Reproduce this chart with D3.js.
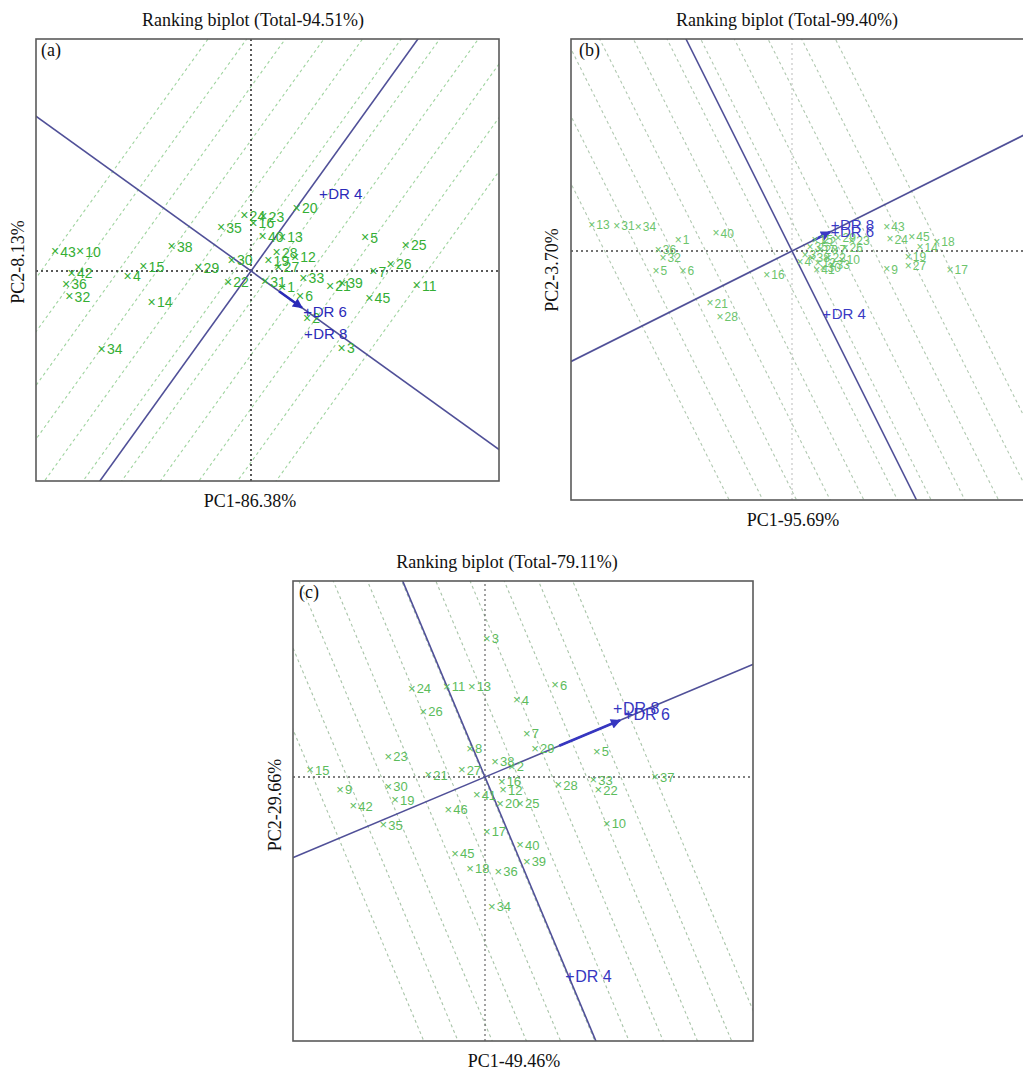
<!DOCTYPE html>
<html><head><meta charset="utf-8">
<script src="https://cdn.jsdelivr.net/npm/d3@7"></script>
<style>body{margin:0;background:#fff}svg{display:block}</style>
</head><body>
<svg id="chart" width="1023" height="1070"></svg>
<script>
// ---------- DATA ----------
const panelTitles = ["Ranking biplot (Total-94.51%)", "Ranking biplot (Total-99.40%)", "Ranking biplot (Total-79.11%)"];
const panelTags = ["(a)", "(b)", "(c)"];
const xAxisLabels = ["PC1-86.38%", "PC1-95.69%", "PC1-49.46%"];
const yAxisLabels = ["PC2-8.13%", "PC2-3.70%", "PC2-29.66%"];

// genotype scores [label, PC1, PC2]
const genotypesA = [
  ["43",-19.6,1.93],["10",-17.1,1.93],["42",-17.93,-0.23],["36",-18.5,-1.33],["32",-18.17,-2.57],
  ["4",-12.33,-0.5],["15",-10.77,0.43],["38",-7.93,2.43],["14",-9.93,-3.13],["34",-14.93,-7.8],
  ["29",-5.27,0.33],["35",-3.0,4.33],["24",-0.67,5.53],["23",1.23,5.43],["16",0.23,4.77],
  ["30",-1.93,1.1],["22",-2.3,-1.1],["20",4.57,6.27],["40",1.17,3.43],["13",3.1,3.4],
  ["28",2.57,1.83],["19",1.73,1.03],["12",4.4,1.37],["27",2.73,0.37],["31",1.4,-1.07],
  ["33",5.23,-0.73],["21",7.9,-1.5],["39",9.1,-1.2],["1",3.1,-1.6],["6",4.9,-2.5],
  ["2",5.6,-4.7],["5",11.4,3.33],["25",15.47,2.6],["26",13.97,0.67],["7",12.23,-0.07],
  ["11",16.57,-1.47],["45",11.83,-2.73],["3",9.07,-7.73]
];
const genotypesB = [
  ["13",-20.03,2.6],["31",-17.53,2.5],["34",-15.37,2.43],["40",-7.6,1.77],["1",-11.37,1.1],
  ["36",-13.37,0.1],["32",-12.9,-0.7],["5",-13.6,-1.97],["6",-10.9,-2.0],["16",-2.53,-2.4],
  ["21",-8.2,-5.23],["28",-7.2,-6.57],["23",5.97,1.03],["43",9.47,2.43],["24",9.8,1.17],
  ["45",11.97,1.43],["14",12.8,0.37],["18",14.47,0.93],["19",11.63,-0.57],["9",9.47,-1.83],
  ["27",11.63,-1.5],["17",15.8,-1.9],["41",2.47,-1.9],["3",1.3,-0.4],["38",2.0,-0.7],
  ["20",2.8,0.1],["22",3.6,-0.7],["35",1.8,0.4],["2",3.3,0.9],["7",4.3,0.1],
  ["10",5.0,-0.9],["12",2.6,-1.2],["33",4.0,-1.4],["4",0.8,-1.1],["15",2.3,1.1],
  ["26",5.3,0.3],["29",4.6,1.3],["30",3.1,-1.7]
];
const genotypesC = [
  ["3",0.17,13.87],["24",-7.33,8.87],["11",-3.83,9.03],["13",-1.33,9.03],["26",-6.17,6.53],
  ["4",3.17,7.7],["6",7.0,9.2],["7",4.17,4.37],["29",5.0,2.87],["5",11.17,2.53],
  ["23",-9.67,2.03],["8",-1.5,2.87],["38",1.0,1.53],["27",-2.33,0.7],["21",-5.67,0.2],
  ["2",2.67,1.03],["16",1.67,-0.47],["28",7.33,-0.8],["33",10.83,-0.3],["22",11.33,-1.3],
  ["37",17.0,0.0],["30",-9.67,-0.97],["19",-9.0,-2.3],["35",-10.17,-4.8],["46",-3.67,-3.23],
  ["41",-0.83,-1.8],["12",1.8,-1.3],["20",1.5,-2.63],["25",3.5,-2.63],["17",0.17,-5.47],
  ["10",12.17,-4.63],["40",3.5,-6.8],["45",-3.0,-7.63],["39",4.17,-8.47],["18",-1.5,-9.13],
  ["36",1.33,-9.47],["34",0.67,-12.97],["15",-17.5,0.7],["9",-14.5,-1.23],["42",-13.17,-2.9]
];

// environment (tester) scores [label, PC1, PC2]
const environmentsA = [["DR 4",7.23,7.7],["DR 6",5.67,-4.07],["DR 8",5.73,-6.23]];
const environmentsB = [["DR 8",4.3,2.6],["DR 6",4.3,1.9],["DR 4",3.47,-6.3]];
const environmentsC = [["DR 8",13.27,6.87],["DR 6",14.33,6.3],["DR 4",8.5,-19.97]];

// average-environment (AEC) arrow tips [PC1, PC2]
const aecA = [5.1, -3.67];
const aecB = [3.8, 1.9];
const aecC = [13.5, 5.67];

// plotting windows in PC units
const xDomainA = [-21.5, 24.8], yDomainA = [-21.0, 23.2];
const xDomainB = [-22.1, 24.4], yDomainB = [-24.9, 21.2];
const xDomainC = [-19.2, 26.8], yDomainC = [-26.4, 19.6];

// number of ranking lines
const rankLineCount = 11;

// ---------- LAYOUT / STYLE ----------
const panels = [
  {geno: genotypesA, env: environmentsA, aec: aecA, xd: xDomainA, yd: yDomainA,
   box: {l:36, r:499, t:39, b:481}, title: [253, 26], tag: [41, 56], xl: [250, 507], yl: [24, 262],
   gCol: "#34ae34", gSize: 14, eCol: "#2a2ab8", eSize: 15, dashCol: "#9fd49f", axCol: "#222", vAxCol: "#222", vAxW: 1.5},
  {geno: genotypesB, env: environmentsB, aec: aecB, xd: xDomainB, yd: yDomainB,
   box: {l:571, r:1036, t:39, b:500}, title: [787, 26], tag: [579, 56], xl: [793, 526], yl: [558, 270],
   gCol: "#6cc46c", gSize: 12, eCol: "#3a3ac4", eSize: 15, dashCol: "#b0c8b0", axCol: "#444", vAxCol: "#bbb", vAxW: 1},
  {geno: genotypesC, env: environmentsC, aec: aecC, xd: xDomainC, yd: yDomainC,
   box: {l:293, r:753, t:581, b:1041}, title: [507, 568], tag: [299, 598], xl: [514, 1067], yl: [281, 805],
   gCol: "#5cbc5c", gSize: 13, eCol: "#3636c0", eSize: 16, dashCol: "#a8c4a8", axCol: "#555", vAxCol: "#666", vAxW: 1.2}
];

const svg = d3.select("#chart");
const defs = svg.append("defs");
const serif = "'Liberation Serif','Times New Roman',serif";
const sans = "'Liberation Sans',Arial,sans-serif";
const blueLine = "#505098";

panels.forEach((p, i) => {
  const x = d3.scaleLinear().domain(p.xd).range([p.box.l, p.box.r]);
  const y = d3.scaleLinear().domain(p.yd).range([p.box.b, p.box.t]);
  const clipId = "clip" + i;
  defs.append("clipPath").attr("id", clipId).append("rect")
    .attr("x", p.box.l).attr("y", p.box.t).attr("width", p.box.r - p.box.l).attr("height", p.box.b - p.box.t);
  defs.append("marker").attr("id", "ah" + i).attr("viewBox", "0 0 10 10").attr("refX", 9).attr("refY", 5)
    .attr("markerWidth", 13).attr("markerHeight", 10).attr("markerUnits", "userSpaceOnUse").attr("orient", "auto")
    .append("path").attr("d", "M0,0 L10,5 L0,10 z").attr("fill", p.eCol);

  const g = svg.append("g");
  const inner = g.append("g").attr("clip-path", `url(#${clipId})`);
  const line = d3.line().x(d => x(d[0])).y(d => y(d[1]));

  // AEC unit vectors
  const len = Math.hypot(p.aec[0], p.aec[1]);
  const u = [p.aec[0] / len, p.aec[1] / len];
  const q = [-u[1], u[0]];
  const L = 80;

  // ranking lines perpendicular to AEC between worst and best genotype projections
  const proj = p.geno.map(d => d[1] * u[0] + d[2] * u[1]);
  const tmin = d3.min(proj), tmax = d3.max(proj);
  const ts = d3.range(rankLineCount).map(k => tmin + k * (tmax - tmin) / (rankLineCount - 1));
  inner.selectAll("path.rank").data(ts).join("path").attr("class", "rank")
    .attr("d", t => line([[t*u[0] - L*q[0], t*u[1] - L*q[1]], [t*u[0] + L*q[0], t*u[1] + L*q[1]]]))
    .attr("fill", "none").attr("stroke", p.dashCol).attr("stroke-width", 1.1).attr("stroke-dasharray", "3,3");

  // axes through origin (dotted)
  inner.append("path").attr("d", line([[p.xd[0], 0], [p.xd[1], 0]]))
    .attr("stroke", p.axCol).attr("stroke-width", 1.5).attr("stroke-dasharray", "2,3").attr("fill", "none");
  inner.append("path").attr("d", line([[0, p.yd[0]], [0, p.yd[1]]]))
    .attr("stroke", p.vAxCol).attr("stroke-width", p.vAxW).attr("stroke-dasharray", "2,3").attr("fill", "none");

  // AEC abscissa and ordinate
  inner.append("path").attr("d", line([[-L*u[0], -L*u[1]], [L*u[0], L*u[1]]]))
    .attr("stroke", blueLine).attr("stroke-width", 1.6).attr("fill", "none");
  inner.append("path").attr("d", line([[-L*q[0], -L*q[1]], [L*q[0], L*q[1]]]))
    .attr("stroke", blueLine).attr("stroke-width", 1.6).attr("fill", "none");

  // arrow
  inner.append("path").attr("d", line([[p.aec[0]*0.55, p.aec[1]*0.55], p.aec]))
    .attr("stroke", p.eCol).attr("stroke-width", 2.6).attr("fill", "none").attr("marker-end", `url(#ah${i})`);

  // genotypes
  const gg = inner.selectAll("g.geno").data(p.geno).join("g").attr("class", "geno")
    .attr("transform", d => `translate(${x(d[1])},${y(d[2])})`);
  gg.append("text").text("\u00d7").attr("text-anchor", "middle").attr("y", p.gSize * 0.33)
    .attr("font-family", sans).attr("font-size", p.gSize).attr("fill", p.gCol);
  gg.append("text").text(d => d[0]).attr("x", p.gSize * 0.38).attr("y", p.gSize * 0.36)
    .attr("font-family", sans).attr("font-size", p.gSize).attr("fill", p.gCol);

  // environments
  const eg = inner.selectAll("g.env").data(p.env).join("g").attr("class", "env")
    .attr("transform", d => `translate(${x(d[1])},${y(d[2])})`);
  eg.append("text").text("+").attr("text-anchor", "middle").attr("y", p.eSize * 0.35)
    .attr("font-family", sans).attr("font-size", p.eSize).attr("fill", p.eCol);
  eg.append("text").text(d => d[0]).attr("x", p.eSize * 0.33).attr("y", p.eSize * 0.36)
    .attr("font-family", sans).attr("font-size", p.eSize).attr("fill", p.eCol);

  // frame
  g.append("rect").attr("x", p.box.l).attr("y", p.box.t).attr("width", p.box.r - p.box.l).attr("height", p.box.b - p.box.t)
    .attr("fill", "none").attr("stroke", "#5a5a5a").attr("stroke-width", 1.6);

  // texts
  g.append("text").text(panelTitles[i]).attr("x", p.title[0]).attr("y", p.title[1]).attr("text-anchor", "middle")
    .attr("font-family", serif).attr("font-size", 18).attr("fill", "#111");
  g.append("text").text(panelTags[i]).attr("x", p.tag[0]).attr("y", p.tag[1])
    .attr("font-family", serif).attr("font-size", 18).attr("fill", "#111");
  g.append("text").text(xAxisLabels[i]).attr("x", p.xl[0]).attr("y", p.xl[1]).attr("text-anchor", "middle")
    .attr("font-family", serif).attr("font-size", 18).attr("fill", "#111");
  g.append("text").text(yAxisLabels[i]).attr("text-anchor", "middle")
    .attr("transform", `translate(${p.yl[0]},${p.yl[1]}) rotate(-90)`)
    .attr("font-family", serif).attr("font-size", 18).attr("fill", "#111");
});
</script>
</body></html>
